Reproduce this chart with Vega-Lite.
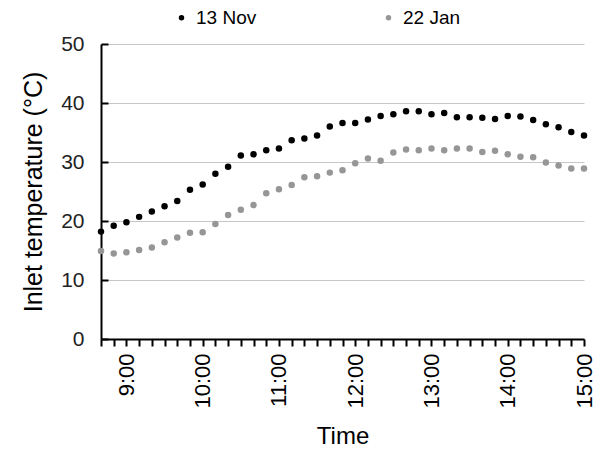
{
  "$schema": "https://vega.github.io/schema/vega-lite/v6.json",
  "width": 483,
  "height": 295,
  "autosize": {"type": "none"},
  "padding": {"left": 101, "top": 44, "right": 20, "bottom": 114},
  "background": "white",
  "config": {
    "view": {"stroke": null},
    "font": "Liberation Sans"
  },
  "data": {
    "values": [
      {"t": 520, "d": "13 Nov", "v": 18.2}, {"t": 530, "d": "13 Nov", "v": 19.2}, {"t": 540, "d": "13 Nov", "v": 19.8},
      {"t": 550, "d": "13 Nov", "v": 20.7}, {"t": 560, "d": "13 Nov", "v": 21.6}, {"t": 570, "d": "13 Nov", "v": 22.5},
      {"t": 580, "d": "13 Nov", "v": 23.4}, {"t": 590, "d": "13 Nov", "v": 25.3}, {"t": 600, "d": "13 Nov", "v": 26.2},
      {"t": 610, "d": "13 Nov", "v": 28.0}, {"t": 620, "d": "13 Nov", "v": 29.2}, {"t": 630, "d": "13 Nov", "v": 31.1},
      {"t": 640, "d": "13 Nov", "v": 31.3}, {"t": 650, "d": "13 Nov", "v": 32.0}, {"t": 660, "d": "13 Nov", "v": 32.3},
      {"t": 670, "d": "13 Nov", "v": 33.7}, {"t": 680, "d": "13 Nov", "v": 34.0}, {"t": 690, "d": "13 Nov", "v": 34.5},
      {"t": 700, "d": "13 Nov", "v": 36.0}, {"t": 710, "d": "13 Nov", "v": 36.6}, {"t": 720, "d": "13 Nov", "v": 36.6},
      {"t": 730, "d": "13 Nov", "v": 37.2}, {"t": 740, "d": "13 Nov", "v": 37.8}, {"t": 750, "d": "13 Nov", "v": 38.1},
      {"t": 760, "d": "13 Nov", "v": 38.6}, {"t": 770, "d": "13 Nov", "v": 38.6}, {"t": 780, "d": "13 Nov", "v": 38.1},
      {"t": 790, "d": "13 Nov", "v": 38.3}, {"t": 800, "d": "13 Nov", "v": 37.6}, {"t": 810, "d": "13 Nov", "v": 37.6},
      {"t": 820, "d": "13 Nov", "v": 37.5}, {"t": 830, "d": "13 Nov", "v": 37.3}, {"t": 840, "d": "13 Nov", "v": 37.8},
      {"t": 850, "d": "13 Nov", "v": 37.7}, {"t": 860, "d": "13 Nov", "v": 37.1}, {"t": 870, "d": "13 Nov", "v": 36.4},
      {"t": 880, "d": "13 Nov", "v": 35.9}, {"t": 890, "d": "13 Nov", "v": 35.1}, {"t": 900, "d": "13 Nov", "v": 34.5},
      {"t": 520, "d": "22 Jan", "v": 14.9}, {"t": 530, "d": "22 Jan", "v": 14.5}, {"t": 540, "d": "22 Jan", "v": 14.7},
      {"t": 550, "d": "22 Jan", "v": 15.1}, {"t": 560, "d": "22 Jan", "v": 15.5}, {"t": 570, "d": "22 Jan", "v": 16.4},
      {"t": 580, "d": "22 Jan", "v": 17.2}, {"t": 590, "d": "22 Jan", "v": 18.0}, {"t": 600, "d": "22 Jan", "v": 18.1},
      {"t": 610, "d": "22 Jan", "v": 19.5}, {"t": 620, "d": "22 Jan", "v": 21.0}, {"t": 630, "d": "22 Jan", "v": 21.9},
      {"t": 640, "d": "22 Jan", "v": 22.7}, {"t": 650, "d": "22 Jan", "v": 24.7}, {"t": 660, "d": "22 Jan", "v": 25.4},
      {"t": 670, "d": "22 Jan", "v": 26.1}, {"t": 680, "d": "22 Jan", "v": 27.4}, {"t": 690, "d": "22 Jan", "v": 27.6},
      {"t": 700, "d": "22 Jan", "v": 28.2}, {"t": 710, "d": "22 Jan", "v": 28.6}, {"t": 720, "d": "22 Jan", "v": 29.8},
      {"t": 730, "d": "22 Jan", "v": 30.6}, {"t": 740, "d": "22 Jan", "v": 30.2}, {"t": 750, "d": "22 Jan", "v": 31.6},
      {"t": 760, "d": "22 Jan", "v": 32.1}, {"t": 770, "d": "22 Jan", "v": 32.0}, {"t": 780, "d": "22 Jan", "v": 32.3},
      {"t": 790, "d": "22 Jan", "v": 32.0}, {"t": 800, "d": "22 Jan", "v": 32.3}, {"t": 810, "d": "22 Jan", "v": 32.3},
      {"t": 820, "d": "22 Jan", "v": 31.7}, {"t": 830, "d": "22 Jan", "v": 31.9}, {"t": 840, "d": "22 Jan", "v": 31.3},
      {"t": 850, "d": "22 Jan", "v": 30.9}, {"t": 860, "d": "22 Jan", "v": 30.8}, {"t": 870, "d": "22 Jan", "v": 29.9},
      {"t": 880, "d": "22 Jan", "v": 29.4}, {"t": 890, "d": "22 Jan", "v": 28.9}, {"t": 900, "d": "22 Jan", "v": 28.9}
    ]
  },
  "mark": {"type": "circle", "size": 42, "opacity": 1},
  "encoding": {
    "x": {
      "field": "t",
      "type": "quantitative",
      "title": "Time",
      "scale": {"domain": [520, 900], "nice": false, "zero": false},
      "axis": {
        "values": [520, 530, 540, 550, 560, 570, 580, 590, 600, 610, 620, 630, 640, 650, 660, 670, 680, 690, 700, 710, 720, 730, 740, 750, 760, 770, 780, 790, 800, 810, 820, 830, 840, 850, 860, 870, 880, 890, 900],
        "labelExpr": "datum.value % 60 == 0 ? floor(datum.value / 60) + ':00' : ''",
        "labelAngle": -90,
        "labelAlign": "right",
        "labelBaseline": "middle",
        "labelFontSize": 22,
        "labelColor": "#000000",
        "labelPadding": 7,
        "labelOverlap": false,
        "ticks": true,
        "tickSize": 7,
        "tickWidth": 2,
        "tickColor": "#000000",
        "domainColor": "#000000",
        "domainWidth": 2,
        "grid": false,
        "titleFontSize": 24,
        "titleFontWeight": "normal",
        "titleColor": "#000000",
        "titlePadding": 16
      }
    },
    "y": {
      "field": "v",
      "type": "quantitative",
      "title": "Inlet temperature (°C)",
      "scale": {"domain": [0, 50], "nice": false},
      "axis": {
        "values": [0, 10, 20, 30, 40, 50],
        "labelFontSize": 21,
        "labelColor": "#222222",
        "labelPadding": 24,
        "ticks": true,
        "tickSize": -7,
        "tickWidth": 2,
        "tickColor": "#000000",
        "domainColor": "#000000",
        "domainWidth": 2,
        "grid": true,
        "gridColor": "#c6c6c6",
        "gridWidth": 1,
        "titleFontSize": 25,
        "titleFontWeight": "normal",
        "titleColor": "#000000",
        "titlePadding": 14
      }
    },
    "color": {
      "field": "d",
      "type": "nominal",
      "sort": ["13 Nov", "22 Jan"],
      "scale": {"domain": ["13 Nov", "22 Jan"], "range": ["#000000", "#969696"]},
      "legend": {
        "title": null,
        "orient": "none",
        "legendX": 71,
        "legendY": -36,
        "direction": "horizontal",
        "symbolType": "circle",
        "symbolSize": 30,
        "symbolStrokeWidth": 0,
        "labelFontSize": 19,
        "labelColor": "#000000",
        "labelOffset": 5,
        "columnPadding": 122
      }
    }
  }
}
